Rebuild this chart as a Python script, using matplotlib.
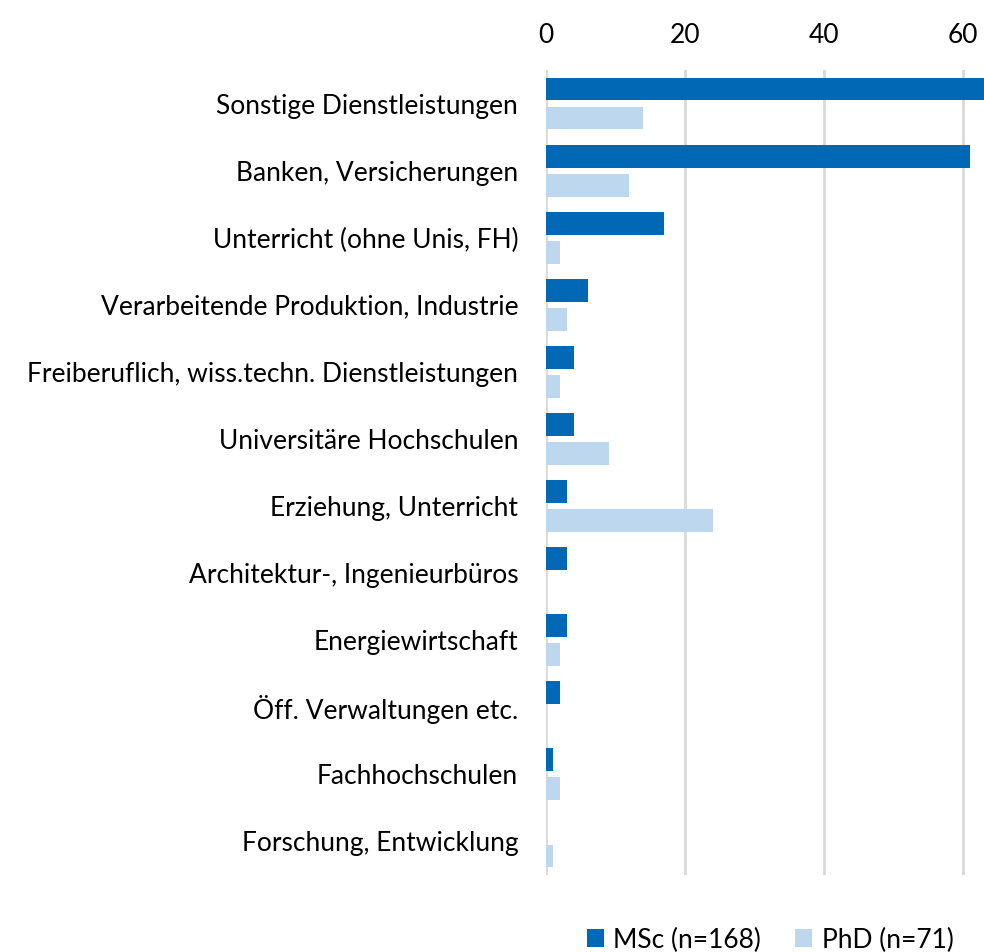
import numpy as np
import matplotlib.pyplot as plt

# DATA
categories = [
    'Sonstige Dienstleistungen',
    'Banken, Versicherungen',
    'Unterricht (ohne Unis, FH)',
    'Verarbeitende Produktion, Industrie',
    'Freiberuflich, wiss.techn. Dienstleistungen',
    'Universitäre Hochschulen',
    'Erziehung, Unterricht',
    'Architektur-, Ingenieurbüros',
    'Energiewirtschaft',
    'Öff. Verwaltungen etc.',
    'Fachhochschulen',
    'Forschung, Entwicklung',
]
msc = [65, 61, 17, 6, 4, 4, 3, 3, 3, 2, 1, 0]
phd = [14, 12, 2, 3, 2, 9, 24, 0, 2, 0, 2, 1]
ticks = [0, 20, 40, 60]

# PLOT CONFIG
plt.rcParams['font.family'] = ['Lato', 'DejaVu Sans']
FS = 19
C_MSC = '#0068B4'
C_PHD = '#BDD7EE'

fig = plt.figure(figsize=(9.84, 9.52), dpi=100)
ax = fig.add_axes([546 / 984, 1 - 875 / 952, 1 - 546 / 984, (875 - 70) / 952])

y = np.arange(len(categories))
h = 0.34
off = 0.216
ax.barh(y - off, msc, height=h, color=C_MSC, label='MSc (n=168)', zorder=3)
ax.barh(y + off, phd, height=h, color=C_PHD, label='PhD (n=71)', zorder=3)

ax.set_ylim(len(categories) - 0.5, -0.5)
ax.set_xlim(0, 63)
ax.set_yticks(y)
ax.set_yticklabels(categories, fontsize=FS)
ax.set_xticks(ticks)
ax.set_xticklabels([str(t) for t in ticks], fontsize=FS)
ax.xaxis.tick_top()
ax.tick_params(axis='both', length=0)
ax.tick_params(axis='x', pad=16)
ax.tick_params(axis='y', pad=20)
ax.grid(axis='x', color='#D9D9D9', linewidth=2, zorder=0)
for s in ax.spines.values():
    s.set_visible(False)

fig.legend(loc='center', bbox_to_anchor=(770 / 984, 1 - 940 / 952), ncol=2,
           frameon=False, fontsize=FS, handlelength=0.65, handleheight=0.65,
           handletextpad=0.35, columnspacing=1.3)

## SAVE FIGURE
fig.savefig('out.png', dpi=100)
